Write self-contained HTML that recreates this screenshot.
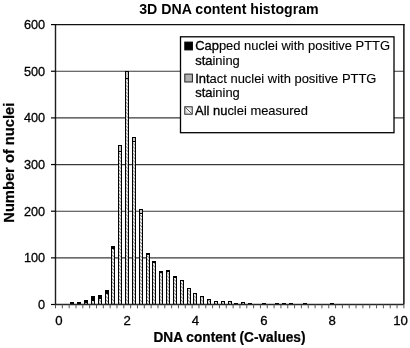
<!DOCTYPE html>
<html><head><meta charset="utf-8"><title>3D DNA content histogram</title>
<style>html,body{margin:0;padding:0;background:#fff;width:410px;height:348px;overflow:hidden}svg{display:block} .r{stroke:#000;stroke-width:0.3px} .l{stroke:#000;stroke-width:0.12px} .b{stroke-width:0.32px} .t{stroke:#000;stroke-width:0.25px}</style>
</head><body>
<svg width="410" height="348" viewBox="0 0 410 348" font-family='"Liberation Sans", Arial, sans-serif' fill="#000"><defs>
<pattern id="hatch" patternUnits="userSpaceOnUse" width="3.4" height="3.4">
<rect width="3.4" height="3.4" fill="#fff"/><path d="M-1,-1 L4.4,4.4 M-1,2.4 L1,4.4 M2.4,-1 L4.4,1" stroke="#6a6a6a" stroke-width="0.9"/></pattern>
</defs><rect x="0" y="0" width="410" height="348" fill="#fff"/>
<line x1="55.5" y1="257.85" x2="403.88" y2="257.85" stroke="#3a3a3a" stroke-width="1.15"/>
<line x1="55.5" y1="211.20" x2="403.88" y2="211.20" stroke="#3a3a3a" stroke-width="1.15"/>
<line x1="55.5" y1="164.55" x2="403.88" y2="164.55" stroke="#3a3a3a" stroke-width="1.15"/>
<line x1="55.5" y1="117.90" x2="403.88" y2="117.90" stroke="#3a3a3a" stroke-width="1.15"/>
<line x1="55.5" y1="71.25" x2="403.88" y2="71.25" stroke="#3a3a3a" stroke-width="1.15"/>
<line x1="403.88" y1="23.90" x2="403.88" y2="304.5" stroke="#111" stroke-width="1.5"/>
<line x1="55.5" y1="24.60" x2="404.58" y2="24.60" stroke="#111" stroke-width="1.4"/>
<rect x="70" y="302" width="4" height="2.50" fill="#000"/>
<rect x="71" y="303" width="2" height="1.50" fill="url(#hatch)"/>
<rect x="71" y="303" width="2" height="1" fill="#000"/>
<rect x="77" y="302" width="4" height="2.50" fill="#000"/>
<rect x="78" y="303" width="2" height="1.50" fill="url(#hatch)"/>
<rect x="78" y="303" width="2" height="1" fill="#000"/>
<rect x="84" y="300" width="4" height="4.50" fill="#000"/>
<rect x="85" y="301" width="2" height="3.50" fill="url(#hatch)"/>
<rect x="85" y="301" width="2" height="2" fill="#000"/>
<rect x="91" y="296" width="4" height="8.50" fill="#000"/>
<rect x="92" y="297" width="2" height="7.50" fill="url(#hatch)"/>
<rect x="92" y="297" width="2" height="4" fill="#000"/>
<rect x="98" y="295" width="4" height="9.50" fill="#000"/>
<rect x="99" y="296" width="2" height="8.50" fill="url(#hatch)"/>
<rect x="99" y="296" width="2" height="3" fill="#000"/>
<rect x="105" y="290" width="4" height="14.50" fill="#000"/>
<rect x="106" y="291" width="2" height="13.50" fill="url(#hatch)"/>
<rect x="106" y="291" width="2" height="3" fill="#000"/>
<rect x="111" y="246" width="4" height="58.50" fill="#000"/>
<rect x="112" y="247" width="2" height="57.50" fill="url(#hatch)"/>
<rect x="112" y="247" width="2" height="2" fill="#000"/>
<rect x="118" y="145" width="4" height="159.50" fill="#000"/>
<rect x="119" y="146" width="2" height="158.50" fill="url(#hatch)"/>
<rect x="119" y="146" width="2" height="5" fill="#c4c4c4"/>
<rect x="118" y="151" width="4" height="1" fill="#000"/>
<rect x="125" y="71" width="4" height="233.50" fill="#000"/>
<rect x="126" y="72" width="2" height="232.50" fill="url(#hatch)"/>
<rect x="126" y="72" width="2" height="6" fill="#c4c4c4"/>
<rect x="125" y="78" width="4" height="1" fill="#000"/>
<rect x="132" y="137" width="4" height="167.50" fill="#000"/>
<rect x="133" y="138" width="2" height="166.50" fill="url(#hatch)"/>
<rect x="133" y="138" width="2" height="3" fill="#c4c4c4"/>
<rect x="132" y="141" width="4" height="1" fill="#000"/>
<rect x="139" y="209" width="4" height="95.50" fill="#000"/>
<rect x="140" y="210" width="2" height="94.50" fill="url(#hatch)"/>
<rect x="140" y="210" width="2" height="3" fill="#c4c4c4"/>
<rect x="139" y="213" width="4" height="1" fill="#000"/>
<rect x="146" y="253" width="4" height="51.50" fill="#000"/>
<rect x="147" y="254" width="2" height="50.50" fill="url(#hatch)"/>
<rect x="147" y="254" width="2" height="1" fill="#000"/>
<rect x="152" y="261" width="4" height="43.50" fill="#000"/>
<rect x="153" y="262" width="2" height="42.50" fill="url(#hatch)"/>
<rect x="153" y="262" width="2" height="1" fill="#000"/>
<rect x="159" y="271" width="4" height="33.50" fill="#000"/>
<rect x="160" y="272" width="2" height="32.50" fill="url(#hatch)"/>
<rect x="160" y="272" width="2" height="1" fill="#000"/>
<rect x="166" y="270" width="4" height="34.50" fill="#000"/>
<rect x="167" y="271" width="2" height="33.50" fill="url(#hatch)"/>
<rect x="167" y="271" width="2" height="1" fill="#000"/>
<rect x="173" y="276" width="4" height="28.50" fill="#000"/>
<rect x="174" y="277" width="2" height="27.50" fill="url(#hatch)"/>
<rect x="174" y="277" width="2" height="1" fill="#000"/>
<rect x="180" y="280" width="4" height="24.50" fill="#000"/>
<rect x="181" y="281" width="2" height="23.50" fill="url(#hatch)"/>
<rect x="181" y="281" width="2" height="0" fill="#000"/>
<rect x="187" y="288" width="4" height="16.50" fill="#000"/>
<rect x="188" y="289" width="2" height="15.50" fill="url(#hatch)"/>
<rect x="188" y="289" width="2" height="0" fill="#000"/>
<rect x="193" y="293" width="4" height="11.50" fill="#000"/>
<rect x="194" y="294" width="2" height="10.50" fill="url(#hatch)"/>
<rect x="194" y="294" width="2" height="0" fill="#000"/>
<rect x="200" y="296" width="4" height="8.50" fill="#000"/>
<rect x="201" y="297" width="2" height="7.50" fill="url(#hatch)"/>
<rect x="201" y="297" width="2" height="0" fill="#000"/>
<rect x="207" y="299" width="4" height="5.50" fill="#000"/>
<rect x="208" y="300" width="2" height="4.50" fill="url(#hatch)"/>
<rect x="208" y="300" width="2" height="0" fill="#000"/>
<rect x="214" y="301" width="4" height="3.50" fill="#000"/>
<rect x="215" y="302" width="2" height="2.50" fill="url(#hatch)"/>
<rect x="215" y="302" width="2" height="0" fill="#000"/>
<rect x="221" y="301" width="4" height="3.50" fill="#000"/>
<rect x="222" y="302" width="2" height="2.50" fill="url(#hatch)"/>
<rect x="222" y="302" width="2" height="0" fill="#000"/>
<rect x="228" y="301" width="4" height="3.50" fill="#000"/>
<rect x="229" y="302" width="2" height="2.50" fill="url(#hatch)"/>
<rect x="229" y="302" width="2" height="0" fill="#000"/>
<rect x="234" y="303" width="4" height="1.50" fill="#000"/>
<rect x="241" y="302" width="4" height="2.50" fill="#000"/>
<rect x="242" y="303" width="2" height="1.50" fill="url(#hatch)"/>
<rect x="248" y="303" width="4" height="1.50" fill="#000"/>
<rect x="262" y="303" width="4" height="1.50" fill="#000"/>
<rect x="275" y="303" width="4" height="1.50" fill="#000"/>
<rect x="282" y="303" width="4" height="1.50" fill="#000"/>
<rect x="289" y="303" width="4" height="1.50" fill="#000"/>
<rect x="303" y="303" width="4" height="1.50" fill="#000"/>
<rect x="330" y="303" width="4" height="1.50" fill="#000"/>
<line x1="55.5" y1="24.10" x2="55.5" y2="305.0" stroke="#1c1c1c" stroke-width="1.4"/>
<line x1="55.0" y1="304.5" x2="403.88" y2="304.5" stroke="#262626" stroke-width="1.3"/>
<line x1="51.0" y1="304.50" x2="55.5" y2="304.50" stroke="#000" stroke-width="1.2"/>
<text transform="translate(45.1,309.00) scale(0.95,1)" text-anchor="end" font-size="13.4" class="r">0</text>
<line x1="51.0" y1="257.85" x2="55.5" y2="257.85" stroke="#000" stroke-width="1.2"/>
<text transform="translate(45.1,262.35) scale(0.95,1)" text-anchor="end" font-size="13.4" class="r">100</text>
<line x1="51.0" y1="211.20" x2="55.5" y2="211.20" stroke="#000" stroke-width="1.2"/>
<text transform="translate(45.1,215.70) scale(0.95,1)" text-anchor="end" font-size="13.4" class="r">200</text>
<line x1="51.0" y1="164.55" x2="55.5" y2="164.55" stroke="#000" stroke-width="1.2"/>
<text transform="translate(45.1,169.05) scale(0.95,1)" text-anchor="end" font-size="13.4" class="r">300</text>
<line x1="51.0" y1="117.90" x2="55.5" y2="117.90" stroke="#000" stroke-width="1.2"/>
<text transform="translate(45.1,122.40) scale(0.95,1)" text-anchor="end" font-size="13.4" class="r">400</text>
<line x1="51.0" y1="71.25" x2="55.5" y2="71.25" stroke="#000" stroke-width="1.2"/>
<text transform="translate(45.1,75.75) scale(0.95,1)" text-anchor="end" font-size="13.4" class="r">500</text>
<line x1="51.0" y1="24.60" x2="55.5" y2="24.60" stroke="#000" stroke-width="1.2"/>
<text transform="translate(45.1,29.10) scale(0.95,1)" text-anchor="end" font-size="13.4" class="r">600</text>
<line x1="55.50" y1="304.5" x2="55.50" y2="308.3" stroke="#555" stroke-width="1"/>
<line x1="62.33" y1="304.5" x2="62.33" y2="308.3" stroke="#555" stroke-width="1"/>
<line x1="69.16" y1="304.5" x2="69.16" y2="308.3" stroke="#555" stroke-width="1"/>
<line x1="75.99" y1="304.5" x2="75.99" y2="308.3" stroke="#555" stroke-width="1"/>
<line x1="82.82" y1="304.5" x2="82.82" y2="308.3" stroke="#555" stroke-width="1"/>
<line x1="89.66" y1="304.5" x2="89.66" y2="308.3" stroke="#555" stroke-width="1"/>
<line x1="96.49" y1="304.5" x2="96.49" y2="308.3" stroke="#555" stroke-width="1"/>
<line x1="103.32" y1="304.5" x2="103.32" y2="308.3" stroke="#555" stroke-width="1"/>
<line x1="110.15" y1="304.5" x2="110.15" y2="308.3" stroke="#555" stroke-width="1"/>
<line x1="116.98" y1="304.5" x2="116.98" y2="308.3" stroke="#555" stroke-width="1"/>
<line x1="123.81" y1="304.5" x2="123.81" y2="308.3" stroke="#555" stroke-width="1"/>
<line x1="130.64" y1="304.5" x2="130.64" y2="308.3" stroke="#555" stroke-width="1"/>
<line x1="137.47" y1="304.5" x2="137.47" y2="308.3" stroke="#555" stroke-width="1"/>
<line x1="144.30" y1="304.5" x2="144.30" y2="308.3" stroke="#555" stroke-width="1"/>
<line x1="151.13" y1="304.5" x2="151.13" y2="308.3" stroke="#555" stroke-width="1"/>
<line x1="157.97" y1="304.5" x2="157.97" y2="308.3" stroke="#555" stroke-width="1"/>
<line x1="164.80" y1="304.5" x2="164.80" y2="308.3" stroke="#555" stroke-width="1"/>
<line x1="171.63" y1="304.5" x2="171.63" y2="308.3" stroke="#555" stroke-width="1"/>
<line x1="178.46" y1="304.5" x2="178.46" y2="308.3" stroke="#555" stroke-width="1"/>
<line x1="185.29" y1="304.5" x2="185.29" y2="308.3" stroke="#555" stroke-width="1"/>
<line x1="192.12" y1="304.5" x2="192.12" y2="308.3" stroke="#555" stroke-width="1"/>
<line x1="198.95" y1="304.5" x2="198.95" y2="308.3" stroke="#555" stroke-width="1"/>
<line x1="205.78" y1="304.5" x2="205.78" y2="308.3" stroke="#555" stroke-width="1"/>
<line x1="212.61" y1="304.5" x2="212.61" y2="308.3" stroke="#555" stroke-width="1"/>
<line x1="219.44" y1="304.5" x2="219.44" y2="308.3" stroke="#555" stroke-width="1"/>
<line x1="226.28" y1="304.5" x2="226.28" y2="308.3" stroke="#555" stroke-width="1"/>
<line x1="233.11" y1="304.5" x2="233.11" y2="308.3" stroke="#555" stroke-width="1"/>
<line x1="239.94" y1="304.5" x2="239.94" y2="308.3" stroke="#555" stroke-width="1"/>
<line x1="246.77" y1="304.5" x2="246.77" y2="308.3" stroke="#555" stroke-width="1"/>
<line x1="253.60" y1="304.5" x2="253.60" y2="308.3" stroke="#555" stroke-width="1"/>
<line x1="260.43" y1="304.5" x2="260.43" y2="308.3" stroke="#555" stroke-width="1"/>
<line x1="267.26" y1="304.5" x2="267.26" y2="308.3" stroke="#555" stroke-width="1"/>
<line x1="274.09" y1="304.5" x2="274.09" y2="308.3" stroke="#555" stroke-width="1"/>
<line x1="280.92" y1="304.5" x2="280.92" y2="308.3" stroke="#555" stroke-width="1"/>
<line x1="287.75" y1="304.5" x2="287.75" y2="308.3" stroke="#555" stroke-width="1"/>
<line x1="294.59" y1="304.5" x2="294.59" y2="308.3" stroke="#555" stroke-width="1"/>
<line x1="301.42" y1="304.5" x2="301.42" y2="308.3" stroke="#555" stroke-width="1"/>
<line x1="308.25" y1="304.5" x2="308.25" y2="308.3" stroke="#555" stroke-width="1"/>
<line x1="315.08" y1="304.5" x2="315.08" y2="308.3" stroke="#555" stroke-width="1"/>
<line x1="321.91" y1="304.5" x2="321.91" y2="308.3" stroke="#555" stroke-width="1"/>
<line x1="328.74" y1="304.5" x2="328.74" y2="308.3" stroke="#555" stroke-width="1"/>
<line x1="335.57" y1="304.5" x2="335.57" y2="308.3" stroke="#555" stroke-width="1"/>
<line x1="342.40" y1="304.5" x2="342.40" y2="308.3" stroke="#555" stroke-width="1"/>
<line x1="349.23" y1="304.5" x2="349.23" y2="308.3" stroke="#555" stroke-width="1"/>
<line x1="356.06" y1="304.5" x2="356.06" y2="308.3" stroke="#555" stroke-width="1"/>
<line x1="362.90" y1="304.5" x2="362.90" y2="308.3" stroke="#555" stroke-width="1"/>
<line x1="369.73" y1="304.5" x2="369.73" y2="308.3" stroke="#555" stroke-width="1"/>
<line x1="376.56" y1="304.5" x2="376.56" y2="308.3" stroke="#555" stroke-width="1"/>
<line x1="383.39" y1="304.5" x2="383.39" y2="308.3" stroke="#555" stroke-width="1"/>
<line x1="390.22" y1="304.5" x2="390.22" y2="308.3" stroke="#555" stroke-width="1"/>
<line x1="397.05" y1="304.5" x2="397.05" y2="308.3" stroke="#555" stroke-width="1"/>
<line x1="403.88" y1="304.5" x2="403.88" y2="308.3" stroke="#555" stroke-width="1"/>
<text x="58.92" y="325.2" text-anchor="middle" font-size="13.2" class="r">0</text>
<text x="127.23" y="325.2" text-anchor="middle" font-size="13.2" class="r">2</text>
<text x="195.54" y="325.2" text-anchor="middle" font-size="13.2" class="r">4</text>
<text x="263.85" y="325.2" text-anchor="middle" font-size="13.2" class="r">6</text>
<text x="332.16" y="325.2" text-anchor="middle" font-size="13.2" class="r">8</text>
<text x="400.47" y="325.2" text-anchor="middle" font-size="13.2" class="r">10</text>
<text x="228.95" y="13.7" text-anchor="middle" font-size="14.15" font-weight="bold">3D DNA content histogram</text>
<text transform="translate(229.5,342.2) scale(0.9,1)" text-anchor="middle" font-size="15.2" font-weight="bold" class="t">DNA content (C-values)</text>
<text transform="translate(13.8,162.7) rotate(-90) scale(0.955,1)" x="0" y="0" text-anchor="middle" font-size="15.4" font-weight="bold" class="t">Number of nuclei</text>
<rect x="180.5" y="36.8" width="213.5" height="95.9" fill="#fff" stroke="#000" stroke-width="1.3"/>
<rect x="184.8" y="42.1" width="7.6" height="7.8" fill="#000" stroke="#000" stroke-width="1"/>
<rect x="184.8" y="74.1" width="7.6" height="7.9" fill="#b0b0b0" stroke="#222" stroke-width="1"/>
<rect x="184.8" y="106.8" width="7.4" height="7.4" fill="#f2f2f2" stroke="#222" stroke-width="1"/>
<path d="M185.3 107.3 L191.7 113.7" stroke="#555" stroke-width="1"/><path d="M185.3 110.8 L188.2 113.7 M188.8 107.3 L191.7 110.2" stroke="#aaa" stroke-width="0.8"/>
<text x="195.2" y="50.3" font-size="12.95" class="l"><tspan class="b">Cap</tspan>ped nuclei with positive PTTG</text>
<text x="195.2" y="64.9" font-size="12.95" class="l"><tspan class="b">sta</tspan>ining</text>
<text x="195.2" y="82.6" font-size="12.95" class="l"><tspan class="b">Int</tspan>act nuclei with positive PTTG</text>
<text x="195.2" y="97.1" font-size="12.95" class="l"><tspan class="b">sta</tspan>ining</text>
<text x="195.0" y="114.5" font-size="12.95" class="l"><tspan class="b">All nu</tspan>clei measured</text></svg>
</body></html>
